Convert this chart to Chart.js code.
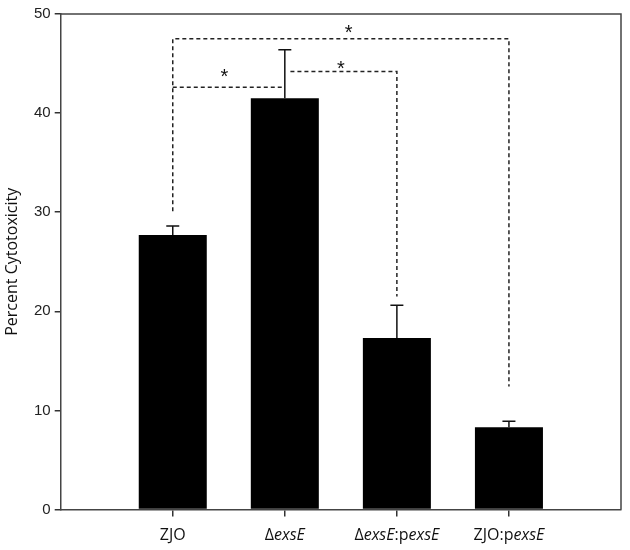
<!DOCTYPE html>
<html>
<head>
<meta charset="utf-8">
<script src="https://cdn.jsdelivr.net/npm/chart.js@4"></script>
<style>
  html, body { margin: 0; padding: 0; background: #fff; }
  #wrap { width: 630px; height: 550px; }
</style>
</head>
<body>
<div id="wrap"><canvas id="c" width="630" height="550"></canvas></div>
<script>
// ---- data ----
const categories = ["ZJO", "ΔexsE", "ΔexsE:pexsE", "ZJO:pexsE"];
// label segments: [text, italic]
const categoryParts = [
  [["ZJO", false]],
  [["Δ", false], ["exsE", true]],
  [["Δ", false], ["exsE", true], [":p", false], ["exsE", true]],
  [["ZJO:p", false], ["exsE", true]]
];
const cytotoxicity = [27.7, 41.5, 17.3, 8.3];
const errorPlus = [0.9, 4.9, 3.3, 0.6];
const yTicks = [0, 10, 20, 30, 40, 50];
// significance brackets (x in category index, y in % units)
const bracketOuter = [[0, 30.1], [0, 47.5], [3, 47.5], [3, 12.4]];
const bracketLeft = [[0, 42.6], [0.98, 42.6]];
const bracketRight = [[1.05, 44.2], [2, 44.2], [2, 21.5]];
const starMarks = [[1.57, 48.6], [0.46, 44.2], [1.5, 45.0]];

const toPts = arr => arr.map(p => ({ x: p[0], y: p[1] }));

const AX = '#333';
const dashed = (pts) => ({
  type: 'line',
  data: toPts(pts),
  borderColor: '#222',
  borderWidth: 1.5,
  borderDash: [4, 3],
  pointRadius: 0,
  fill: false,
  tension: 0
});

const extrasPlugin = {
  id: 'extras',
  afterDatasetsDraw(chart) {
    const ctx = chart.ctx;
    const xs = chart.scales.x, ys = chart.scales.y;
    const ca = chart.chartArea;
    ctx.save();
    // error bars
    ctx.strokeStyle = '#111';
    ctx.lineWidth = 1.5;
    cytotoxicity.forEach((v, i) => {
      const px = xs.getPixelForValue(i);
      const y0 = ys.getPixelForValue(v);
      const y1 = ys.getPixelForValue(v + errorPlus[i]);
      ctx.beginPath();
      ctx.moveTo(px, y0);
      ctx.lineTo(px, y1);
      ctx.moveTo(px - 6.5, y1);
      ctx.lineTo(px + 6.5, y1);
      ctx.stroke();
    });
    // frame top & right
    ctx.strokeStyle = '#444';
    ctx.lineWidth = 1.5;
    ctx.beginPath();
    ctx.moveTo(ca.left, ca.top);
    ctx.lineTo(ca.right, ca.top);
    ctx.lineTo(ca.right, ca.bottom);
    ctx.stroke();
    // stars
    ctx.fillStyle = '#111';
    const fs = 20;
    ctx.font = fs + 'px "Liberation Sans", Arial, sans-serif';
    ctx.textAlign = 'center';
    ctx.textBaseline = 'alphabetic';
    starMarks.forEach(s => {
      ctx.fillText('*', xs.getPixelForValue(s[0]), ys.getPixelForValue(s[1]) + 0.58 * fs);
    });
    // category labels with italic parts
    const lf = 16;
    const fontN = lf + 'px "Open Sans", sans-serif';
    const fontI = 'italic ' + lf + 'px "Open Sans", sans-serif';
    ctx.textAlign = 'left';
    ctx.textBaseline = 'middle';
    ctx.fillStyle = '#111';
    categoryParts.forEach((parts, i) => {
      let total = 0;
      parts.forEach(p => { ctx.font = p[1] ? fontI : fontN; total += ctx.measureText(p[0]).width; });
      let x = xs.getPixelForValue(i) - total / 2;
      const y = ca.bottom + 26;
      parts.forEach(p => {
        ctx.font = p[1] ? fontI : fontN;
        ctx.fillText(p[0], x, y);
        x += ctx.measureText(p[0]).width;
      });
    });
    ctx.restore();
  }
};

new Chart(document.getElementById('c'), {
  type: 'bar',
  data: {
    datasets: [
      {
        type: 'bar',
        label: 'Percent Cytotoxicity',
        data: cytotoxicity.map((v, i) => ({ x: i, y: v })),
        backgroundColor: '#000',
        borderColor: '#222',
        borderWidth: 0,
        categoryPercentage: 1,
        barPercentage: 0.607
      },
      dashed(bracketOuter),
      dashed(bracketLeft),
      dashed(bracketRight)
    ]
  },
  options: {
    responsive: false,
    animation: false,
    devicePixelRatio: 1,
    layout: { padding: { left: 0, top: 14, right: 9, bottom: 0 } },
    plugins: { legend: { display: false }, tooltip: { enabled: false } },
    scales: {
      x: {
        type: 'linear',
        min: -1,
        max: 4,
        offset: false,
        afterBuildTicks(scale) { scale.ticks = categories.map((c, i) => ({ value: i })); },
        afterFit(scale) { scale.height = 40.5; },
        ticks: { callback: () => '', font: { size: 14 } },
        grid: { offset: false, drawOnChartArea: false, drawTicks: true, tickLength: 7, color: AX, lineWidth: 1.5 },
        border: { color: '#444', width: 1.5 }
      },
      y: {
        min: 0,
        max: 50,
        afterBuildTicks(scale) { scale.ticks = yTicks.map(v => ({ value: v })); },
        afterFit(scale) { scale.width = 60.7; },
        ticks: {
          padding: 4,
          color: '#222',
          font: { family: '"Liberation Sans", Arial, sans-serif', size: 15 }
        },
        grid: { drawOnChartArea: false, drawTicks: true, tickLength: 6, color: AX, lineWidth: 1.5 },
        border: { color: '#444', width: 1.5 },
        title: {
          display: true,
          text: 'Percent Cytotoxicity',
          color: '#111',
          font: { family: '"Open Sans", sans-serif', size: 16 },
          padding: { top: 3, bottom: 4 }
        }
      }
    }
  },
  plugins: [extrasPlugin]
});
</script>
</body>
</html>
